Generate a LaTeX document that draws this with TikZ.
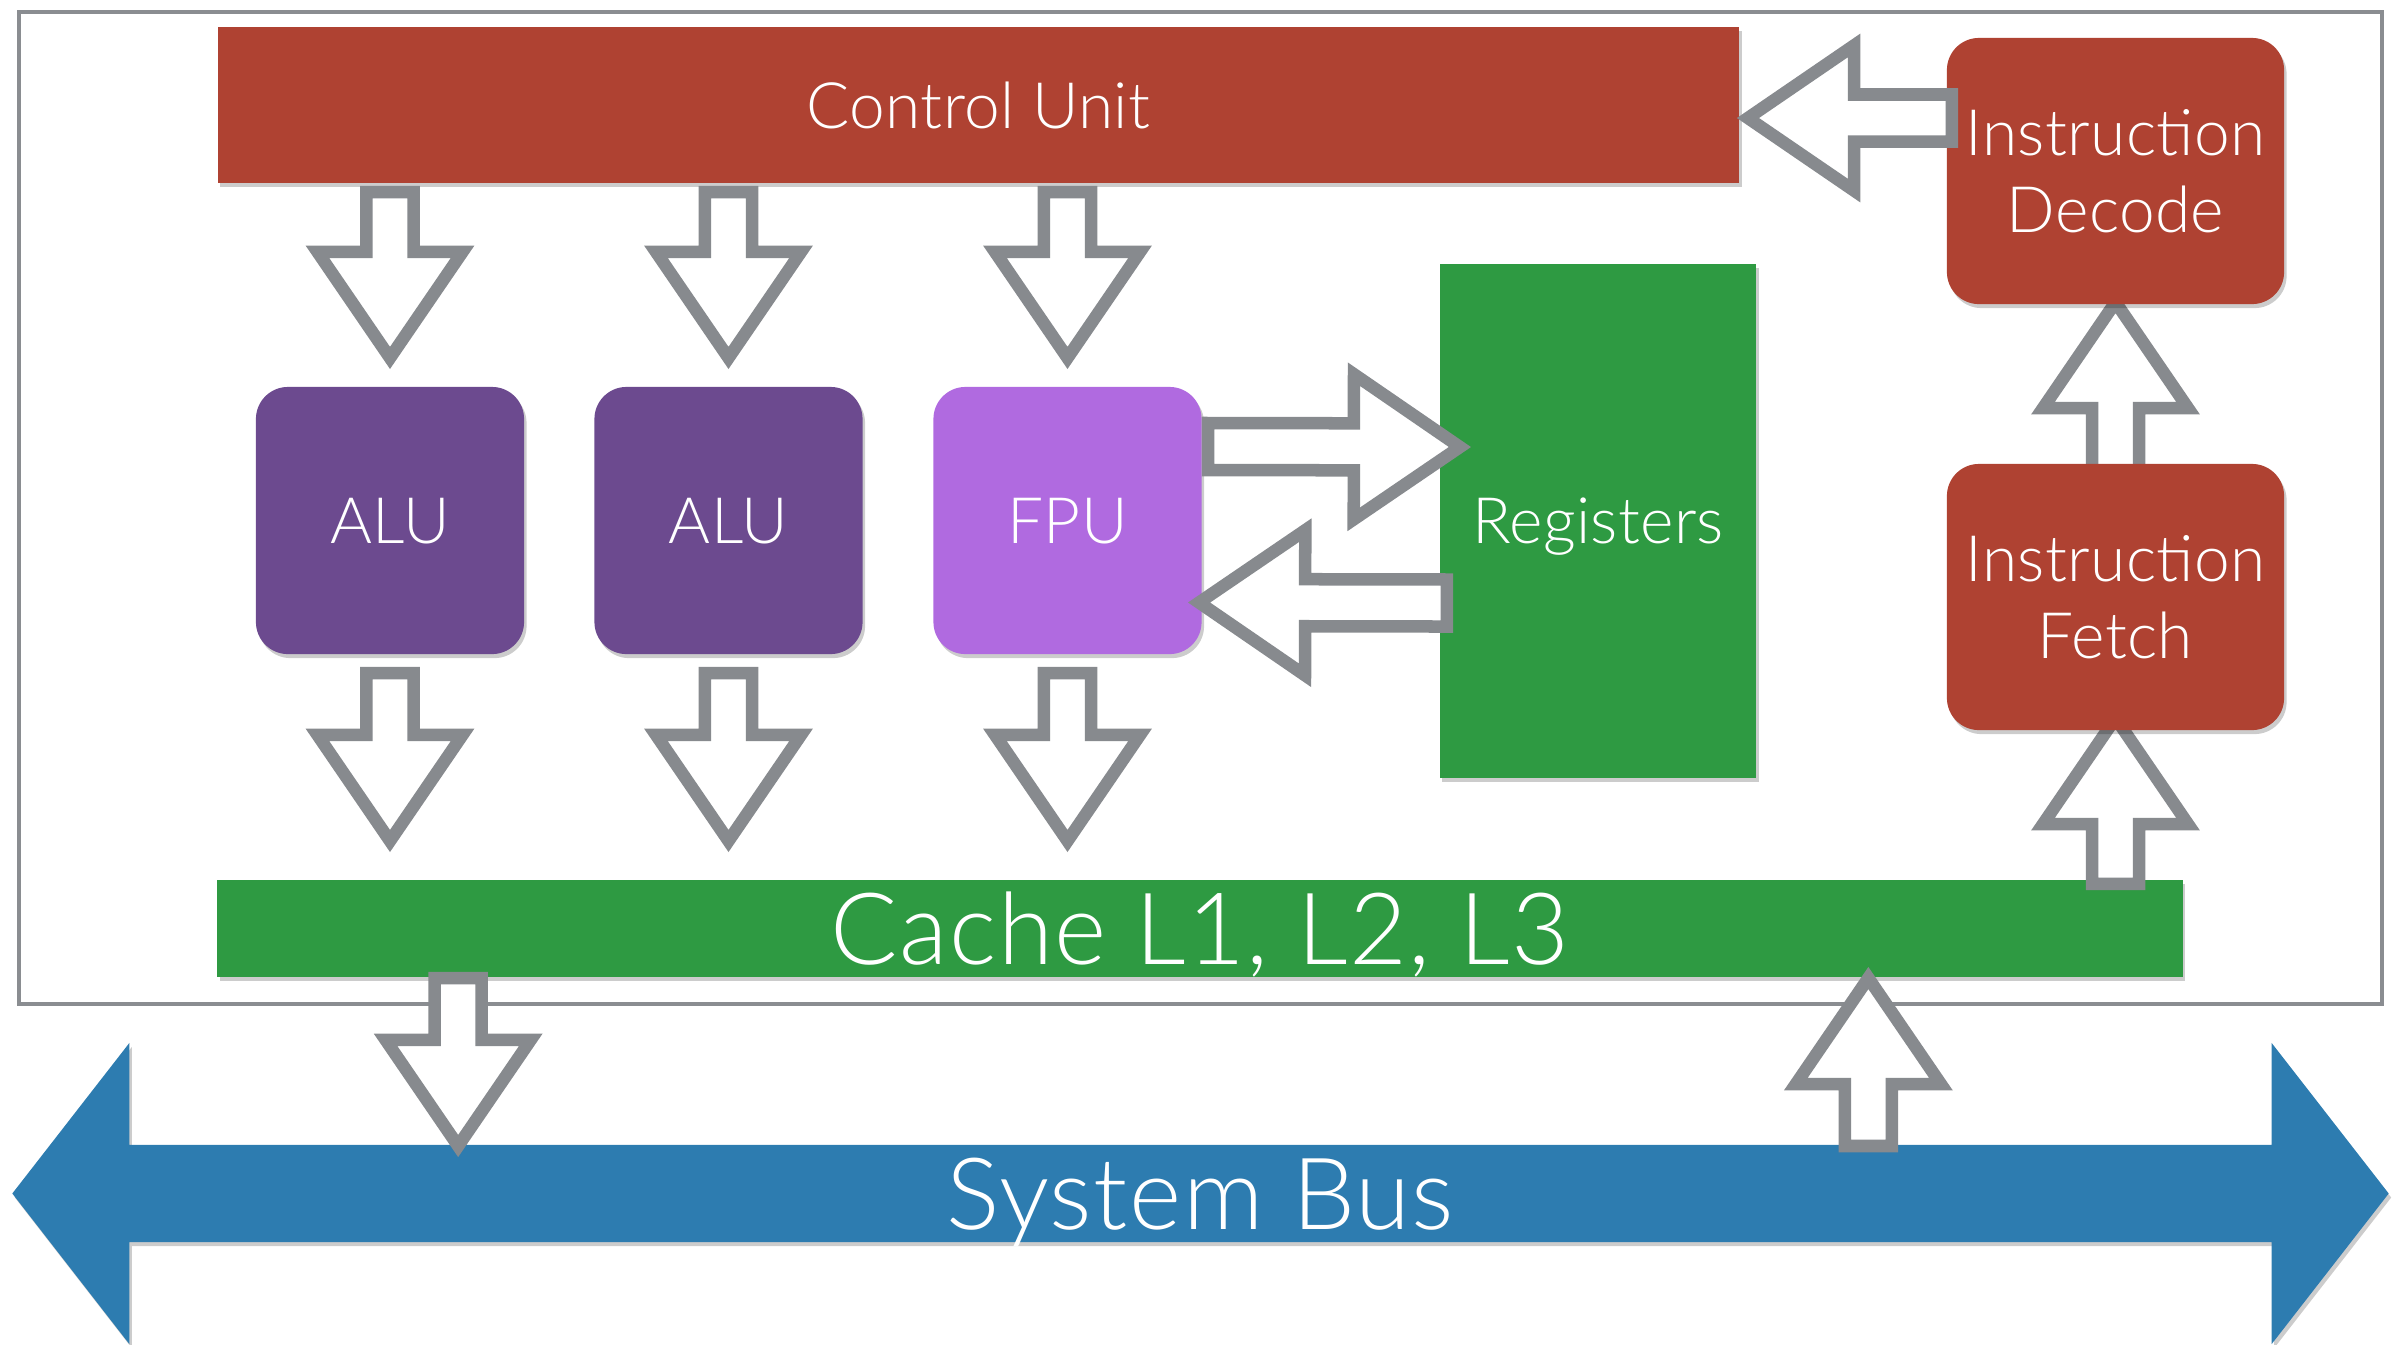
\documentclass[tikz,border=0pt]{standalone}
\usepackage{fontspec}
\setmainfont{Lato}[UprightFont={* Light}, LetterSpace=0.5]
\usetikzlibrary{calc,shadows}

\pgfdeclarelayer{bg}
\pgfsetlayers{bg,main}

\definecolor{unitred}{RGB}{175,66,50}
\definecolor{alupurple}{RGB}{108,74,143}
\definecolor{fpupurple}{RGB}{176,106,224}
\definecolor{memgreen}{RGB}{46,154,66}
\definecolor{busblue}{RGB}{45,124,176}
\definecolor{arrowgray}{RGB}{135,138,142}
\definecolor{framegray}{RGB}{138,141,145}

\tikzset{
  box/.style={inner sep=0pt, outer sep=0pt, text=white, align=center,
    font=\fontsize{18.2}{22}\selectfont},
  bigtext/.style={font=\fontsize{28.4}{32}\selectfont\addfontfeatures{LetterSpace=1.5}},
  nodepth/.style={text depth=0pt},
  boxshadow/.style={drop shadow={shadow xshift=0.025cm, shadow yshift=-0.04cm,
    opacity=0.2, fill=black}},
  unitbox/.style={box, boxshadow, rounded corners=0.32cm,
    minimum width=2.68cm, minimum height=2.67cm, nodepth},
  sidebox/.style={box, boxshadow, fill=unitred, rounded corners=0.32cm,
    minimum width=3.37cm, minimum height=2.66cm},
  % hollow block arrow from the start point (tail) to the target point (tip)
  blockarrow/.style={draw=arrowgray, fill=white, line width=0.125cm,
    line join=miter, miter limit=10,
    to path={let \p1=(\tikztostart), \p2=(\tikztotarget),
      \p3=($(\p2)!1.06cm!(\p1)$) in
      ($(\p1)!0.235cm!90:(\p2)$) -- ($(\p3)!0.235cm!90:(\p2)$)
      -- ($(\p3)!0.725cm!90:(\p2)$) -- (\p2)
      -- ($(\p3)!0.725cm!-90:(\p2)$) -- ($(\p3)!0.235cm!-90:(\p2)$)
      -- ($(\p1)!0.235cm!-90:(\p2)$) -- cycle}},
}

\begin{document}
\begin{tikzpicture}[x=0.01cm, y=-0.01cm]
\useasboundingbox (0,0) rectangle (2399,1344);

% processing units
\node[box, boxshadow, fill=unitred, minimum width=15.21cm, minimum height=1.56cm, nodepth]
  (cu) at (978.5,105) {Control Unit};
\node[unitbox, fill=alupurple] (alu1) at (390,520.5) {ALU};
\node[unitbox, fill=alupurple] (alu2) at (728.5,520.5) {ALU};
\node[unitbox, fill=fpupurple] (fpu) at (1067.5,520.5) {FPU};
\node[box, boxshadow, fill=memgreen, minimum width=3.16cm, minimum height=5.14cm, nodepth]
  (reg) at (1598,521) {Registers};
\node[sidebox] (decode) at (2115.5,171) {Instruction\\Decode};
\node[sidebox] (fetch) at (2115.5,597) {Instruction\\Fetch};
\node[box, bigtext, minimum width=21.41cm, minimum height=0.97cm, nodepth]
  (bus) at (1200.5,1193.5) {System Bus};

\begin{pgfonlayer}{bg}
  % chip outline
  \draw[framegray, line width=0.04cm] (19,12) rectangle (2382,1004);
  % system bus body with its two heads
  \fill[busblue, boxshadow]
    (bus.north west) -- ([yshift=1.02cm]bus.north west) -- ([xshift=-1.17cm]bus.west)
    -- ([yshift=-1.02cm]bus.south west) -- (bus.south west) -- (bus.south east)
    -- ([yshift=-1.02cm]bus.south east) -- ([xshift=1.17cm]bus.east)
    -- ([yshift=1.02cm]bus.north east) -- (bus.north east) -- cycle;
  \node[box, bigtext, boxshadow, fill=memgreen, minimum width=19.64cm, minimum height=0.97cm, nodepth]
    (cache) at (1200,928.5) {Cache L1, L2, L3};
  \draw[blockarrow] ([yshift=-0.04cm]cache.north -| fetch.south) to ([yshift=0.12cm]fetch.south);
  \draw[blockarrow] ([yshift=-0.2cm]fetch.north) to ([yshift=0.02cm]decode.south);
\end{pgfonlayer}

% control signals to the execution units
\foreach \u in {alu1,alu2,fpu}{
  \draw[blockarrow] ([yshift=-0.09cm]cu.south -| \u.north) to ([yshift=0.29cm]\u.north);
  \draw[blockarrow] ([yshift=-0.19cm]\u.south) to ([yshift=0.39cm]cache.north -| \u.south);
}

% FPU <-> registers
\draw[blockarrow] ([shift={(6.5,-74)}]fpu.east) to ([shift={(20,-74)}]reg.west);
\draw[blockarrow] ([shift={(7,82)}]reg.west) to ([shift={(-2.5,82)}]fpu.east);

% decode -> control unit
\draw[blockarrow] ([shift={(5,-53)}]decode.west) to ([shift={(8.5,13)}]cu.east);

% cache <-> system bus
\coordinate (busout) at ($(cache.south west)!0.1225!(cache.south east)$);
\coordinate (busin) at ($(cache.south west)!0.8401!(cache.south east)$);
\draw[blockarrow] ([yshift=-0.01cm]busout) to ([yshift=-0.01cm]busout |- bus.north);
\draw[blockarrow] ([yshift=-0.01cm]busin |- bus.north) to ([yshift=-0.01cm]busin);
\end{tikzpicture}
\end{document}
